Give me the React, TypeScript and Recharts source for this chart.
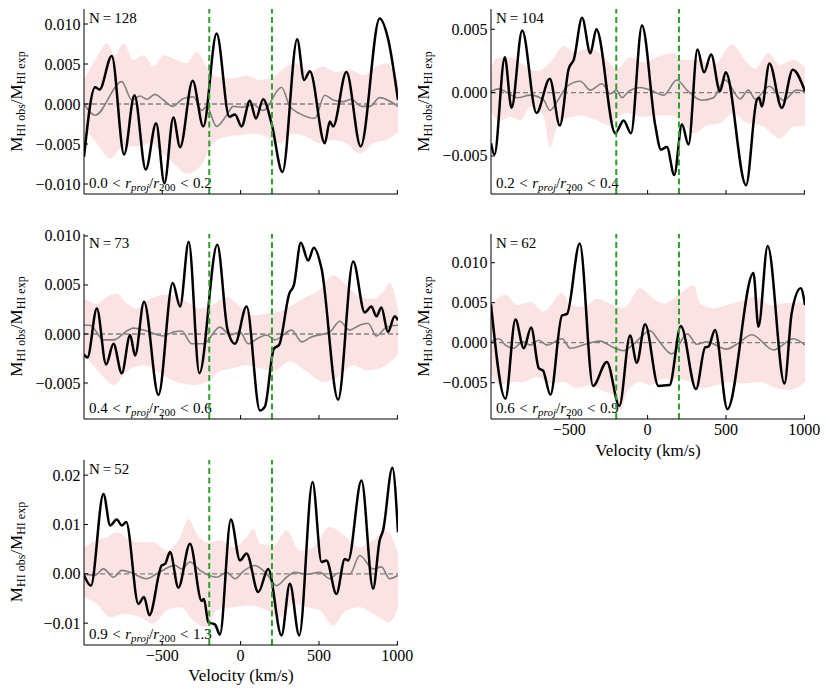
import React from 'react';
import { ComposedChart, Line, Area, XAxis, YAxis, ReferenceLine } from 'recharts';

type Pt = [number, number];

const FONT = '"Liberation Serif", serif';
const FONT_STYLE = { fontFamily: FONT };

// shared axis values
const X_DOMAIN: [number, number] = [-999, 1004];
const X_TICKS = [-500, 0, 500, 1000];
const VEL_MARKERS = [-200, 200];
const X_LABEL = 'Velocity (km/s)';

// ---------- panel 1 : 0.0 < r/r200 < 0.2 ----------
const P1_BLACK: Pt[] = [[-999,-0.0066],[-928,0.0021],[-900,0.0018],[-822,0.0060],[-743,-0.0063],[-677,0.0011],[-605,-0.0082],[-539,-0.0024],[-486,-0.0099],[-429,-0.0017],[-386,-0.0054],[-306,0.0029],[-238,-0.0028],[-153,0.0088],[-72,-0.0016],[-36,-0.0013],[6,-0.0028],[59,0.0004],[98,-0.0018],[144,0.0006],[197,-0.0024],[267,-0.0085],[361,0.0081],[405,0.0030],[442,0.0041],[537,-0.0049],[569,-0.0022],[590,-0.0028],[675,0.0040],[766,-0.0053],[887,0.0107],[940,0.0082],[1004,0.0005]];
const P1_GREY: Pt[] = [[-999,0],[-928,-0.0014],[-758,0.0028],[-694,0.0005],[-641,0.0010],[-599,0.0006],[-546,0.0012],[-493,0.0005],[-433,-0.0003],[-365,0.0007],[-301,0.0009],[-248,-0.0008],[-217,-0.0003],[-153,-0.0028],[-89,-0.0014],[-47,-0.0003],[6,-0.0004],[81,-0.0001],[144,-0.0008],[261,0.0021],[314,-0.0003],[378,-0.0012],[473,-0.0018],[537,0.0011],[590,0.0005],[654,0.0003],[707,0.0006],[771,-0.0003],[824,-0.0003],[887,0.0008],[1004,-0.0003]];
const P1_UP: Pt[] = [[-999,0.0030],[-917,0.0059],[-853,0.0076],[-800,0.0061],[-747,0.0076],[-684,0.0055],[-620,0.0061],[-556,0.0047],[-493,0.0061],[-429,0.0057],[-344,0.0051],[-280,0.0065],[-217,0.0047],[-153,0.0034],[-47,0.0032],[38,0.0036],[123,0.0030],[208,0.0034],[293,0.0047],[357,0.0051],[442,0.0040],[527,0.0047],[611,0.0040],[696,0.0043],[781,0.0036],[866,0.0047],[930,0.0051],[1004,0.0028]];
const P1_LO: Pt[] = [[-999,-0.0030],[-917,-0.0049],[-832,-0.0068],[-747,-0.0053],[-662,-0.0053],[-577,-0.0049],[-493,-0.0062],[-408,-0.0078],[-344,-0.0087],[-259,-0.0078],[-174,-0.0049],[-89,-0.0041],[-4,-0.0039],[81,-0.0037],[166,-0.0041],[251,-0.0049],[335,-0.0037],[420,-0.0041],[505,-0.0049],[590,-0.0045],[675,-0.0049],[760,-0.0062],[845,-0.0049],[930,-0.0045],[1004,-0.0035]];
const P1_Y_TICKS = [-0.01, -0.005, 0, 0.005, 0.01];

// ---------- panel 2 : 0.2 < r/r200 < 0.4 ----------
const P2_BLACK: Pt[] = [[-999,-0.0040],[-977,-0.0049],[-911,0.0028],[-868,-0.0012],[-800,0.0049],[-709,-0.0016],[-624,0.0011],[-560,-0.0026],[-503,0.0019],[-471,0.0026],[-418,0.0059],[-365,0.0031],[-327,0.0050],[-206,-0.0032],[-153,-0.0022],[-106,-0.0032],[-36,0.0053],[49,-0.0026],[85,-0.0045],[123,-0.0043],[170,-0.0065],[219,-0.0025],[261,-0.0041],[318,0.0034],[360,0.0016],[405,0.0030],[462,0.0001],[498,0.0016],[628,-0.0073],[696,-0.0006],[712,-0.0004],[728,-0.0011],[777,0.0023],[856,-0.0012],[926,0.0018],[1004,0.0001]];
const P2_GREY: Pt[] = [[-999,0.0001],[-949,0.0003],[-896,0.0000],[-832,-0.0004],[-747,-0.0002],[-662,-0.0006],[-624,-0.0014],[-577,-0.0007],[-514,0.0005],[-429,0.0009],[-365,0.0002],[-291,0.0007],[-238,-0.0001],[-200,0.0002],[-163,-0.0004],[-121,0.0001],[-47,0.0004],[17,0.0002],[102,-0.0002],[187,0.0010],[251,0.0002],[345,-0.0006],[420,-0.0004],[494,0.0010],[590,-0.0005],[643,0.0002],[686,-0.0005],[777,0.0005],[866,-0.0006],[951,0.0002],[1004,0.0001]];
const P2_UP: Pt[] = [[-999,0.0021],[-960,0.0027],[-875,0.0028],[-779,0.0021],[-705,0.0017],[-620,0.0024],[-535,0.0037],[-471,0.0032],[-365,0.0035],[-280,0.0028],[-195,0.0019],[-110,0.0028],[-25,0.0024],[59,0.0028],[166,0.0031],[207,0.0026],[314,0.0026],[430,0.0023],[537,0.0038],[633,0.0024],[686,0.0019],[771,0.0031],[845,0.0022],[930,0.0026],[1004,0.0020]];
const P2_LO: Pt[] = [[-999,-0.0016],[-938,-0.0022],[-875,-0.0019],[-811,-0.0022],[-747,-0.0011],[-662,-0.0019],[-624,-0.0043],[-577,-0.0027],[-514,-0.0020],[-429,-0.0018],[-323,-0.0022],[-238,-0.0026],[-195,-0.0020],[-132,-0.0016],[-25,-0.0019],[59,-0.0018],[166,-0.0018],[207,-0.0022],[303,-0.0032],[377,-0.0026],[462,-0.0024],[547,-0.0016],[633,-0.0024],[728,-0.0026],[845,-0.0036],[930,-0.0027],[1004,-0.0026]];
const P2_Y_TICKS = [-0.005, 0, 0.005];

// ---------- panel 3 : 0.4 < r/r200 < 0.6 ----------
const P3_BLACK: Pt[] = [[-999,-0.0021],[-977,-0.0024],[-917,0.0026],[-858,-0.0031],[-811,-0.0010],[-758,-0.0040],[-705,-0.0001],[-673,-0.0022],[-616,0.0033],[-524,-0.0062],[-433,0.0052],[-386,0.0028],[-331,0.0094],[-263,-0.0040],[-149,0.0091],[-83,0.0004],[-36,-0.0010],[38,0.0028],[123,-0.0078],[155,-0.0074],[212,-0.0015],[246,-0.0011],[310,0.0041],[340,0.0050],[384,0.0093],[431,0.0075],[467,0.0088],[516,0.0067],[622,-0.0067],[718,0.0074],[792,0.0022],[834,0.0028],[866,0.0018],[898,0.0027],[940,0.0002],[983,0.0018],[1004,0.0014]];
const P3_GREY: Pt[] = [[-999,0.0009],[-960,0.0009],[-875,-0.0006],[-811,-0.0006],[-726,0.0003],[-684,0.0006],[-599,0.0003],[-493,-0.0002],[-429,0.0002],[-376,0.0003],[-312,-0.0010],[-238,-0.0010],[-132,0.0007],[-68,-0.0001],[-4,0.0002],[49,-0.0010],[113,-0.0004],[166,-0.0001],[219,-0.0006],[325,0.0004],[389,-0.0008],[452,-0.0003],[569,0.0002],[633,0.0013],[696,0.0004],[760,0.0009],[813,0.0011],[866,-0.0002],[930,0.0007],[1004,0.0009]];
const P3_UP: Pt[] = [[-999,0.0036],[-917,0.0031],[-853,0.0038],[-790,0.0041],[-726,0.0031],[-662,0.0026],[-577,0.0036],[-471,0.0040],[-365,0.0035],[-259,0.0026],[-174,0.0030],[-89,0.0038],[-4,0.0028],[81,0.0019],[166,0.0021],[251,0.0023],[335,0.0030],[420,0.0038],[505,0.0045],[590,0.0060],[675,0.0050],[760,0.0038],[845,0.0036],[909,0.0043],[951,0.0052],[1004,0.0026]];
const P3_LO: Pt[] = [[-999,-0.0021],[-896,-0.0040],[-811,-0.0052],[-726,-0.0038],[-620,-0.0032],[-514,-0.0040],[-408,-0.0049],[-301,-0.0052],[-217,-0.0049],[-132,-0.0038],[-47,-0.0035],[38,-0.0032],[123,-0.0035],[208,-0.0038],[314,-0.0028],[420,-0.0038],[527,-0.0049],[611,-0.0045],[718,-0.0032],[802,-0.0037],[887,-0.0035],[1004,-0.0021]];
const P3_Y_TICKS = [-0.005, 0, 0.005, 0.01];

// ---------- panel 4 : 0.6 < r/r200 < 0.9 ----------
const P4_BLACK: Pt[] = [[-999,0.0048],[-907,-0.0070],[-843,0.0029],[-790,-0.0007],[-743,0.0019],[-694,-0.0032],[-667,-0.0035],[-620,-0.0065],[-546,0.0034],[-514,0.0036],[-433,0.0124],[-348,-0.0054],[-260,-0.0024],[-180,-0.0079],[-112,0.0009],[-69,-0.0025],[-16,0.0023],[69,-0.0054],[140,-0.0053],[212,0.0021],[309,-0.0058],[367,-0.0006],[388,-0.0005],[430,0.0016],[509,-0.0083],[675,0.0087],[707,0.0020],[766,0.0121],[873,-0.0051],[919,0.0037],[977,0.0068],[1004,0.0047]];
const P4_GREY: Pt[] = [[-999,0.0001],[-949,0.0005],[-907,-0.0003],[-853,-0.0007],[-800,0.0001],[-747,-0.0003],[-694,0.0003],[-641,-0.0003],[-546,0.0005],[-493,-0.0007],[-365,0.0000],[-303,0.0002],[-218,-0.0006],[-154,-0.0010],[-90,-0.0002],[16,0.0015],[69,0.0003],[154,-0.0014],[254,0.0011],[313,-0.0002],[377,0.0001],[504,-0.0008],[568,-0.0002],[665,0.0010],[803,-0.0009],[930,0.0005],[1004,-0.0003]];
const P4_UP: Pt[] = [[-999,0.0047],[-907,0.0060],[-832,0.0047],[-747,0.0051],[-662,0.0039],[-546,0.0062],[-493,0.0047],[-408,0.0045],[-323,0.0055],[-238,0.0049],[-153,0.0043],[-47,0.0068],[17,0.0058],[102,0.0049],[187,0.0058],[293,0.0072],[335,0.0049],[420,0.0043],[505,0.0047],[611,0.0053],[696,0.0058],[781,0.0047],[866,0.0049],[1004,0.0051]];
const P4_LO: Pt[] = [[-999,-0.0040],[-938,-0.0053],[-875,-0.0049],[-790,-0.0049],[-705,-0.0043],[-620,-0.0051],[-535,-0.0049],[-450,-0.0057],[-365,-0.0053],[-280,-0.0061],[-217,-0.0065],[-170,-0.0084],[-132,-0.0061],[-47,-0.0049],[17,-0.0053],[102,-0.0045],[187,-0.0045],[272,-0.0049],[357,-0.0057],[442,-0.0053],[527,-0.0049],[611,-0.0051],[718,-0.0049],[824,-0.0057],[909,-0.0059],[1004,-0.0049]];
const P4_Y_TICKS = [-0.005, 0, 0.005, 0.01];

// ---------- panel 5 : 0.9 < r/r200 < 1.3 ----------
const P5_BLACK: Pt[] = [[-999,-0.0003],[-955,-0.0024],[-875,0.0162],[-832,0.0098],[-790,0.0110],[-758,0.0098],[-730,0.0105],[-652,-0.0061],[-616,-0.0047],[-582,-0.0084],[-503,0.0017],[-482,0.0020],[-450,0.0044],[-397,-0.0028],[-323,0.0061],[-248,-0.0055],[-234,-0.0051],[-206,-0.0098],[-163,-0.0103],[-132,-0.0123],[-62,0.0110],[-4,0.0027],[38,0.0041],[113,-0.0037],[176,0.0010],[261,-0.0125],[314,-0.0020],[374,-0.0125],[459,0.0186],[516,0.0024],[548,0.0027],[611,-0.0041],[665,0.0030],[686,0.0027],[771,0.0189],[845,-0.0030],[887,0.0068],[909,0.0088],[968,0.0215],[1004,0.0084]];
const P5_GREY: Pt[] = [[-999,0],[-928,-0.0003],[-875,0.0010],[-811,-0.0007],[-758,0.0007],[-705,0.0003],[-599,-0.0010],[-535,0],[-418,0.0017],[-376,0.0010],[-323,0.0024],[-259,0.0007],[-153,-0.0007],[-89,0.0003],[-36,-0.0010],[17,0.0005],[91,0.0017],[166,0],[229,-0.0024],[293,-0.0007],[346,0.0003],[420,-0.0001],[505,0.0003],[569,-0.0010],[622,0.0001],[696,-0.0001],[760,0.0037],[845,0.0010],[898,0.0014],[951,-0.0010],[1004,-0.0003]];
const P5_UP: Pt[] = [[-999,0.0054],[-917,0.0068],[-853,0.0074],[-790,0.0084],[-705,0.0068],[-641,0.0064],[-556,0.0064],[-471,0.0047],[-386,0.0074],[-333,0.0111],[-280,0.0081],[-217,0.0064],[-132,0.0068],[-47,0.0054],[38,0.0074],[81,0.0091],[123,0.0061],[208,0.0057],[293,0.0088],[378,0.0047],[463,0.0054],[569,0.0095],[675,0.0074],[760,0.0054],[845,0.0068],[930,0.0088],[1004,0.0041]];
const P5_LO: Pt[] = [[-999,-0.0047],[-917,-0.0061],[-832,-0.0088],[-737,-0.0081],[-641,-0.0088],[-556,-0.0101],[-471,-0.0074],[-386,-0.0068],[-301,-0.0095],[-217,-0.0108],[-153,-0.0074],[-47,-0.0068],[59,-0.0064],[166,-0.0074],[251,-0.0088],[335,-0.0061],[420,-0.0068],[505,-0.0074],[590,-0.0105],[675,-0.0074],[760,-0.0068],[845,-0.0081],[951,-0.0098],[1004,-0.0068]];
const P5_Y_TICKS = [-0.01, 0, 0.01, 0.02];

const N_VALUES = [128, 104, 73, 62, 52];
const R_BINS: [string, string][] = [['0.0', '0.2'], ['0.2', '0.4'], ['0.4', '0.6'], ['0.6', '0.9'], ['0.9', '1.3']];

// layout
const PLOT_W = 314;
const PLOT_H = 185;
const COL_X = [84, 491];
const ROW_Y = [9, 234, 459.5];
const AX_L = 70;
const M_TOP = 10;
const M_RIGHT = 30;
const AX_B = 30;

const toData = (pts: Pt[]) => pts.map(([v, y]) => ({ v, y }));

const fmtY = (v: number, dec: number) => {
  if (Math.abs(v) < 1e-12) return (0).toFixed(dec);
  return (v < 0 ? '\u2212' : '') + Math.abs(v).toFixed(dec);
};
const fmtX = (v: number) => (v < 0 ? '\u2212' + Math.abs(v) : String(v));

const PANELS = [
  { black: P1_BLACK, grey: P1_GREY, up: P1_UP, lo: P1_LO, yDomain: [-0.01125, 0.011875], yTicks: P1_Y_TICKS, dec: 3, col: 0, row: 0, xLabels: false },
  { black: P2_BLACK, grey: P2_GREY, up: P2_UP, lo: P2_LO, yDomain: [-0.0080, 0.0066], yTicks: P2_Y_TICKS, dec: 3, col: 1, row: 0, xLabels: false },
  { black: P3_BLACK, grey: P3_GREY, up: P3_UP, lo: P3_LO, yDomain: [-0.00867, 0.0102], yTicks: P3_Y_TICKS, dec: 3, col: 0, row: 1, xLabels: false },
  { black: P4_BLACK, grey: P4_GREY, up: P4_UP, lo: P4_LO, yDomain: [-0.00954, 0.01359], yTicks: P4_Y_TICKS, dec: 3, col: 1, row: 1, xLabels: true },
  { black: P5_BLACK, grey: P5_GREY, up: P5_UP, lo: P5_LO, yDomain: [-0.01443, 0.02307], yTicks: P5_Y_TICKS, dec: 2, col: 0, row: 2, xLabels: true },
];

const XTick = (props: any) => {
  const { x, y, payload, show } = props;
  return (
    <g>
      <line x1={x} y1={y} x2={x} y2={y - 4} stroke="#000" strokeWidth={1} />
      {show && (
        <text x={x} y={y + 16} textAnchor="middle" fontSize={16} style={FONT_STYLE} fill="#000">
          {fmtX(payload.value)}
        </text>
      )}
    </g>
  );
};

const YTick = (props: any) => {
  const { x, y, payload, dec } = props;
  return (
    <g>
      <line x1={x} y1={y} x2={x + 4} y2={y} stroke="#000" strokeWidth={1} />
      <text x={x - 3.5} y={y + 5.5} textAnchor="end" fontSize={16} style={FONT_STYLE} fill="#000">
        {fmtY(payload.value, dec)}
      </text>
    </g>
  );
};

function Panel({ p }: { p: any }) {
  const left = COL_X[p.col];
  const top = ROW_Y[p.row];
  return (
    <div style={{ position: 'absolute', left: left - AX_L, top: top - M_TOP }}>
      <ComposedChart
        width={AX_L + PLOT_W + M_RIGHT}
        height={M_TOP + PLOT_H + AX_B}
        margin={{ top: M_TOP, right: M_RIGHT, bottom: 0, left: 0 }}
        style={FONT_STYLE}
      >
        <XAxis
          xAxisId="b"
          dataKey="v"
          type="number"
          domain={X_DOMAIN}
          allowDataOverflow
          ticks={X_TICKS}
          interval={0}
          height={AX_B}
          tickSize={0}
          tickMargin={0}
          tickLine={false}
          axisLine={{ stroke: '#000', strokeWidth: 1 }}
          tick={(tp: any) => <XTick {...tp} show={p.xLabels} />}
        />
        <XAxis
          xAxisId="t"
          orientation="top"
          dataKey="v"
          type="number"
          domain={X_DOMAIN}
          allowDataOverflow
          height={0}
          tick={false}
          tickLine={false}
          axisLine={{ stroke: '#000', strokeWidth: 1 }}
        />
        <YAxis
          yAxisId="l"
          type="number"
          domain={p.yDomain}
          allowDataOverflow
          ticks={p.yTicks}
          interval={0}
          width={AX_L}
          tickSize={0}
          tickMargin={0}
          tickLine={false}
          axisLine={{ stroke: '#000', strokeWidth: 1 }}
          tick={(tp: any) => <YTick {...tp} dec={p.dec} />}
        />
        <YAxis
          yAxisId="r"
          orientation="right"
          type="number"
          domain={p.yDomain}
          allowDataOverflow
          width={0}
          tick={false}
          tickLine={false}
          axisLine={{ stroke: '#000', strokeWidth: 1 }}
        />
        <Area
          data={toData(p.up)}
          dataKey="y"
          xAxisId="b"
          yAxisId="l"
          type="monotone"
          baseValue={0}
          stroke="none"
          fill="#f08080"
          fillOpacity={0.22}
          isAnimationActive={false}
        />
        <Area
          data={toData(p.lo)}
          dataKey="y"
          xAxisId="b"
          yAxisId="l"
          type="monotone"
          baseValue={0}
          stroke="none"
          fill="#f08080"
          fillOpacity={0.22}
          isAnimationActive={false}
        />
        <ReferenceLine xAxisId="b" yAxisId="l" y={0} stroke="#808080" strokeWidth={1.3} strokeDasharray="5 3" />
        <Line
          data={toData(p.grey)}
          dataKey="y"
          xAxisId="b"
          yAxisId="l"
          type="monotone"
          stroke="#808080"
          strokeWidth={1.6}
          dot={false}
          isAnimationActive={false}
        />
        <Line
          data={toData(p.black)}
          dataKey="y"
          xAxisId="b"
          yAxisId="l"
          type="monotone"
          stroke="#000"
          strokeWidth={2.5}
          dot={false}
          isAnimationActive={false}
        />
        {VEL_MARKERS.map((m) => (
          <ReferenceLine key={m} xAxisId="b" yAxisId="l" x={m} stroke="#2ca02c" strokeWidth={2} strokeDasharray="6 3.5" />
        ))}
      </ComposedChart>
    </div>
  );
}

function Texts() {
  return (
    <svg width={830} height={695} style={{ position: 'absolute', left: 0, top: 0, fontFamily: FONT }}>
      <g fill="#000" style={FONT_STYLE}>
        {PANELS.map((p, i) => {
          const left = COL_X[p.col];
          const top = ROW_Y[p.row];
          const cy = top + PLOT_H / 2;
          const cx = p.col === 0 ? 22 : 428.5;
          return (
            <g key={i}>
              <text x={left + 5} y={top + 14} fontSize={15} style={FONT_STYLE}>
                N<tspan dx={3}>=</tspan>
                <tspan dx={3}>{N_VALUES[i]}</tspan>
              </text>
              <text x={left + 5} y={top + PLOT_H - 6} fontSize={15} style={FONT_STYLE}>
                {R_BINS[i][0]}
                <tspan dx={4.5}>&lt;</tspan>
                <tspan dx={4.5} fontStyle="italic">r</tspan>
                <tspan fontSize={11} fontStyle="italic" dy={3}>proj</tspan>
                <tspan dy={-3}>/</tspan>
                <tspan fontStyle="italic">r</tspan>
                <tspan fontSize={11} dy={3}>200</tspan>
                <tspan dy={-3} dx={4.5}>&lt;</tspan>
                <tspan dx={4.5}>{R_BINS[i][1]}</tspan>
              </text>
              <text transform={`translate(${cx}, ${cy}) rotate(-90)`} textAnchor="middle" fontSize={17} style={FONT_STYLE}>
                M<tspan fontSize={12} dy={3}>HI obs</tspan>
                <tspan dy={-3}>/M</tspan>
                <tspan fontSize={12} dy={3}>HI exp</tspan>
              </text>
              {p.xLabels && (
                <text x={left + PLOT_W / 2} y={top + PLOT_H + 36.5} textAnchor="middle" fontSize={17} style={FONT_STYLE}>
                  {X_LABEL}
                </text>
              )}
            </g>
          );
        })}
      </g>
    </svg>
  );
}

export default function App() {
  return (
    <div style={{ position: 'absolute', left: 0, top: 0, width: 830, height: 695, background: '#fff', fontFamily: FONT }}>
      <Texts />
      {PANELS.map((p, i) => (
        <Panel key={i} p={p} />
      ))}
    </div>
  );
}
